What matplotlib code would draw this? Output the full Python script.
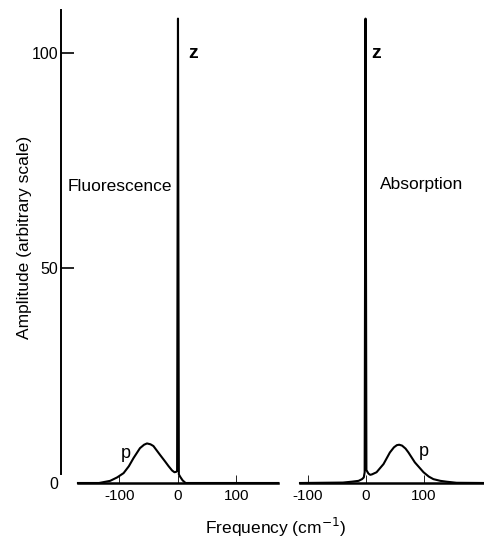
import matplotlib
matplotlib.use("Agg")
import matplotlib.pyplot as plt

plt.rcParams['font.family'] = ['Liberation Sans', 'DejaVu Sans']

# Fluorescence spectrum
fluor_freq = [-171, -135, -116, -104, -93, -84, -76, -65, -58, -53, -47, -42,
              -31, -22, -16, -10, -6, -3, -1.5, 0, 1.5, 4, 8, 13, 171]
fluor_amp = [0, 0, 0.5, 1.3, 2.3, 3.9, 5.8, 8.1, 8.9, 9.2, 9.0, 8.6,
             6.6, 5.0, 3.9, 2.9, 2.5, 2.6, 2.8, 108, 2.0, 1.4, 0.6, 0, 0]

# Absorption spectrum
absorb_freq = [-114, -40, -25, -13, -7, -4, -2.5, -1, 0.5, 4, 7, 10, 18, 30,
               41, 48, 53, 57, 62, 68, 73, 84, 99, 108, 116, 128, 139, 156, 205]
absorb_amp = [0, 0.1, 0.3, 0.5, 0.9, 1.3, 2.5, 108, 3.0, 2.2, 1.9, 2.0, 2.5, 4.4,
              7.1, 8.3, 8.8, 8.9, 8.7, 8.0, 7.1, 4.8, 2.5, 1.5, 0.9, 0.5, 0.3, 0.05, 0]

x_ticks = [-100, 0, 100]
x_tick_labels = ['-100', '0', '100']
y_ticks = [0, 50, 100]
y_tick_labels = ['0', '50', '100']

fig = plt.figure(figsize=(4.85, 5.38), dpi=100)
ax1 = fig.add_axes([61 / 485, 55 / 538, 217 / 485, 473 / 538])
ax2 = fig.add_axes([300 / 485, 55 / 538, 185 / 485, 473 / 538])

# left panel: fluorescence
ax1.plot(fluor_freq, fluor_amp, color='black', lw=1.5, clip_on=False)
ax1.set_xlim(-200, 171)
ax1.set_ylim(0, 110)
ax1.spines['top'].set_visible(False)
ax1.spines['right'].set_visible(False)
ax1.spines['left'].set_bounds(2, 110)
ax1.spines['bottom'].set_bounds(-171, 171)
ax1.spines['left'].set_linewidth(1.4)
ax1.spines['bottom'].set_linewidth(1.8)
ax1.set_yticks(y_ticks)
ax1.set_yticklabels(y_tick_labels)
ax1.tick_params(axis='y', direction='in', length=9.5, width=1.2, pad=2, labelsize=11.5)
ax1.yaxis.get_major_ticks()[0].tick1line.set_visible(False)
ax1.set_ylabel('Amplitude (arbitrary scale)', fontsize=12.5)
ax1.yaxis.set_label_coords(-0.134, 0.52)
ax1.text(-188, 69, 'Fluorescence', fontsize=12.5, va='center', ha='left')
ax1.text(17, 100, 'z', fontsize=14, fontweight='bold', va='center', ha='left')
ax1.text(-89, 6.8, 'p', fontsize=13, va='center', ha='center')

# right panel: absorption
ax2.plot(absorb_freq, absorb_amp, color='black', lw=1.5, clip_on=False)
ax2.set_xlim(-114, 205)
ax2.set_ylim(0, 110)
for s in ['top', 'right', 'left']:
    ax2.spines[s].set_visible(False)
ax2.spines['bottom'].set_linewidth(1.8)
ax2.set_yticks([])
ax2.text(24, 69.5, 'Absorption', fontsize=12.5, va='center', ha='left')
ax2.text(9, 100, 'z', fontsize=14, fontweight='bold', va='center', ha='left')
ax2.text(100, 7.3, 'p', fontsize=13, va='center', ha='center')

for ax in (ax1, ax2):
    ax.set_xticks(x_ticks)
    ax.set_xticklabels(x_tick_labels)
    ax.tick_params(axis='x', direction='in', length=6, width=0.6, pad=4, labelsize=11)
    ax.patch.set_alpha(0)

fig.text(276 / 485, 1 - 527 / 538, 'Frequency (cm$^{-1}$)', fontsize=12.5,
         ha='center', va='center')

fig.savefig('out.png', dpi=100)
